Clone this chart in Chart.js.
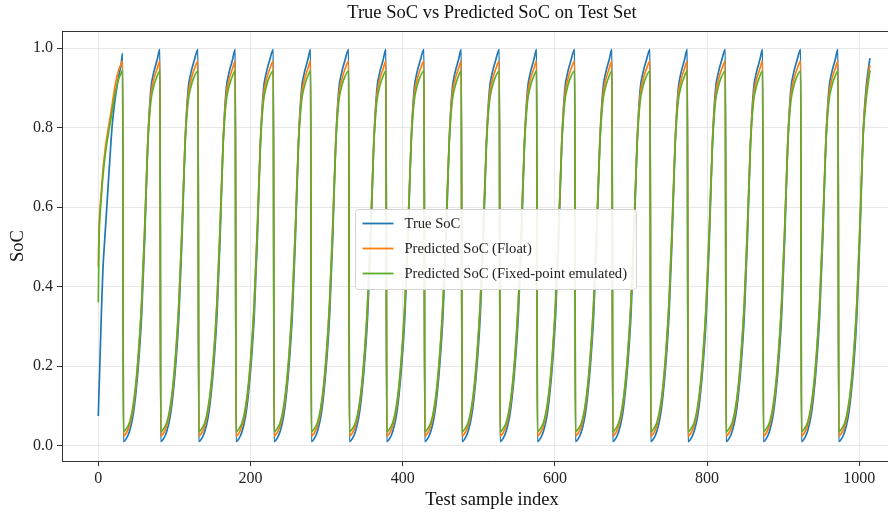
<!DOCTYPE html>
<html>
<head>
<meta charset="utf-8">
<script src="https://cdn.jsdelivr.net/npm/chart.js@4/dist/chart.umd.min.js"></script>
<style>
  html, body { margin: 0; padding: 0; background: #ffffff; overflow: hidden; }
  #wrap { width: 984px; height: 514px; }
</style>
</head>
<body>
<div id="wrap"><canvas id="c" width="984" height="514"></canvas></div>
<script>
// ---- data ----
const seriesNames = ["True SoC", "Predicted SoC (Float)", "Predicted SoC (Fixed-point emulated)"];
const xTicks = [0, 200, 400, 600, 800, 1000];
const yTicks = [0.0, 0.2, 0.4, 0.6, 0.8, 1.0];

// first (partial) charge segment, sample index 0..32
const firstX     = [0, 1, 2, 4, 6, 9, 12, 15, 18, 22, 26, 30, 32];
const firstTrue  = [0.074, 0.14, 0.20, 0.33, 0.44, 0.535, 0.625, 0.715, 0.80, 0.87, 0.92, 0.96, 0.987];
const firstFloat = [0.45, 0.55, 0.59, 0.64, 0.69, 0.745, 0.785, 0.82, 0.855, 0.905, 0.94, 0.96, 0.968];
const firstFixed = [0.36, 0.52, 0.57, 0.625, 0.675, 0.73, 0.77, 0.805, 0.838, 0.885, 0.918, 0.937, 0.944];

// sample index where each full cycle restarts at the bottom
const cycleBottoms = [33, 82, 132, 181, 231, 280, 330, 379, 429, 478, 528, 577, 627, 676, 726, 775, 825, 874, 924, 973];

// one cycle: offsets from the bottom, last value = peak just before the next drop
const cycleOffsets = [0, 4, 8, 12, 16, 20, 24, 28, 32, 36, 40, 44];
const cycleTrue  = [0.010, 0.018, 0.036, 0.068, 0.125, 0.21, 0.33, 0.52, 0.76, 0.895, 0.94, 0.968, 0.997];
const cycleFloat = [0.024, 0.032, 0.050, 0.084, 0.142, 0.232, 0.36, 0.545, 0.765, 0.88, 0.922, 0.946, 0.967];
const cycleFixed = [0.035, 0.042, 0.058, 0.092, 0.150, 0.240, 0.365, 0.55, 0.755, 0.865, 0.905, 0.928, 0.943];

// last (partial) segment, from the final bottom to the end of the data
const lastOffsets = [0, 4, 8, 12, 16, 20, 24, 28, 32, 36, 40, 41];
const lastTrue  = [0.010, 0.018, 0.036, 0.068, 0.125, 0.21, 0.335, 0.535, 0.785, 0.90, 0.962, 0.975];
const lastFloat = [0.024, 0.032, 0.050, 0.084, 0.142, 0.235, 0.365, 0.56, 0.785, 0.885, 0.945, 0.958];
const lastFixed = [0.035, 0.042, 0.058, 0.092, 0.150, 0.242, 0.37, 0.565, 0.775, 0.87, 0.93, 0.944];

const colors = ["#1f77b4", "#ff7f0e", "#5fae2a"];

function buildSeries(firstVals, cycleVals, lastVals) {
  const pts = firstX.map((x, i) => ({ x: x, y: firstVals[i] }));
  cycleBottoms.forEach((b, k) => {
    const next = cycleBottoms[k + 1];
    if (next === undefined) {
      lastOffsets.forEach((o, i) => pts.push({ x: b + o, y: lastVals[i] }));
    } else {
      cycleOffsets.forEach((o, i) => pts.push({ x: b + o, y: cycleVals[i] }));
      pts.push({ x: next - 1, y: cycleVals[cycleVals.length - 1] });
    }
  });
  return pts;
}

const SERIF = '"Liberation Serif", "DejaVu Serif", serif';

const frameAndLegend = {
  id: 'frameAndLegend',
  afterDraw(chart) {
    const { ctx, chartArea } = chart;
    ctx.save();
    // top and right spines
    ctx.strokeStyle = '#333';
    ctx.lineWidth = 1;
    ctx.beginPath();
    ctx.moveTo(chartArea.left, chartArea.top + 0.5);
    ctx.lineTo(chartArea.right, chartArea.top + 0.5);
    ctx.lineTo(chartArea.right, chartArea.bottom);
    ctx.stroke();

    // legend box centred in the axes
    const w = 281, h = 80;
    const cx = (chartArea.left + chartArea.right) / 2 + 3.5;
    const cy = (chartArea.top + chartArea.bottom) / 2 + 2.5;
    const x0 = Math.round(cx - w / 2) + 0.5, y0 = Math.round(cy - h / 2) + 0.5;
    ctx.beginPath();
    if (ctx.roundRect) ctx.roundRect(x0, y0, w, h, 3); else ctx.rect(x0, y0, w, h);
    ctx.fillStyle = 'rgba(255,255,255,0.9)';
    ctx.fill();
    ctx.strokeStyle = '#d4d4d4';
    ctx.stroke();
    chart.data.datasets.forEach((ds, i) => {
      const y = y0 + 14 + i * 25;
      ctx.strokeStyle = ds.borderColor;
      ctx.lineWidth = 1.8;
      ctx.beginPath();
      ctx.moveTo(x0 + 7, y);
      ctx.lineTo(x0 + 38, y);
      ctx.stroke();
      ctx.fillStyle = '#222';
      ctx.font = '14.6px ' + SERIF;
      ctx.textBaseline = 'middle';
      ctx.textAlign = 'left';
      ctx.fillText(ds.label, x0 + 49, y + 1);
    });
    ctx.restore();
  }
};

const datasets = [
  { label: seriesNames[0], data: buildSeries(firstTrue, cycleTrue, lastTrue), borderColor: colors[0], order: 3 },
  { label: seriesNames[1], data: buildSeries(firstFloat, cycleFloat, lastFloat), borderColor: colors[1], order: 2 },
  { label: seriesNames[2], data: buildSeries(firstFixed, cycleFixed, lastFixed), borderColor: colors[2], order: 1 }
].map(d => Object.assign(d, {
  borderWidth: 1.7,
  pointRadius: 0,
  fill: false,
  cubicInterpolationMode: 'monotone',
  backgroundColor: d.borderColor
}));

new Chart(document.getElementById('c'), {
  type: 'line',
  data: { datasets: datasets },
  options: {
    responsive: false,
    animation: false,
    devicePixelRatio: 1,
    layout: { padding: { left: 0, right: 62, top: 0, bottom: 0 } },
    plugins: {
      legend: { display: false },
      tooltip: { enabled: false },
      title: {
        display: true,
        fullSize: false,
        text: 'True SoC vs Predicted SoC on Test Set',
        color: '#111',
        font: { family: SERIF, size: 18.5, weight: 'normal', lineHeight: 1.2 },
        padding: { top: 2, bottom: 6.8 }
      }
    },
    scales: {
      x: {
        type: 'linear',
        min: -47.7,
        max: 1082.4,
        afterBuildTicks: s => { s.ticks = xTicks.map(v => ({ value: v })); },
        afterFit: s => { s.height = 53; },
        ticks: { color: '#222', font: { family: SERIF, size: 16 }, padding: 3, maxRotation: 0, callback: v => String(v) },
        grid: { color: '#e4e4e4', lineWidth: 0.9, drawTicks: true, tickLength: 5, tickColor: '#333', tickWidth: 1 },
        border: { color: '#333', width: 1 },
        title: { display: true, text: 'Test sample index', color: '#111', font: { family: SERIF, size: 18.5 }, padding: { top: 0, bottom: 3 } }
      },
      y: {
        type: 'linear',
        min: -0.039,
        max: 1.043,
        afterBuildTicks: s => { s.ticks = yTicks.map(v => ({ value: v })); },
        afterFit: s => { s.width = 62; },
        ticks: { color: '#222', font: { family: SERIF, size: 16 }, padding: 4, callback: v => Number(v).toFixed(1) },
        grid: { color: '#e4e4e4', lineWidth: 0.9, drawTicks: true, tickLength: 5, tickColor: '#333', tickWidth: 1 },
        border: { color: '#333', width: 1 },
        title: { display: true, text: 'SoC', color: '#111', font: { family: SERIF, size: 18.5 }, padding: { top: 7, bottom: 0 } }
      }
    }
  },
  plugins: [frameAndLegend]
});
</script>
</body>
</html>
